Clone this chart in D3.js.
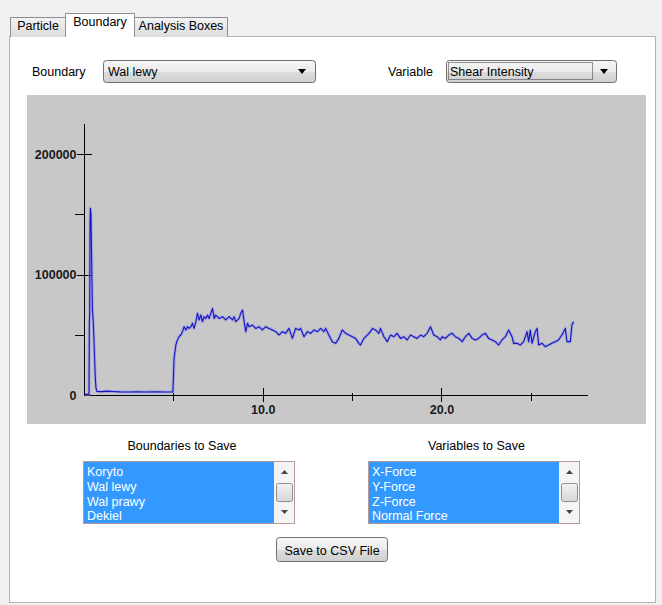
<!DOCTYPE html>
<html>
<head>
<meta charset="utf-8">
<script src="https://cdn.jsdelivr.net/npm/d3@7"></script>
<style>
  html, body { margin: 0; padding: 0; background: #f0f0f0; }
  svg { display: block; font-family: "Liberation Sans", Arial, sans-serif; }
</style>
</head>
<body>
<div id="chart"></div>
<script>
// ---------------- data ----------------
const tabLabels = ["Particle", "Boundary", "Analysis Boxes"];
const boundaryChoice = "Wal lewy";
const variableChoice = "Shear Intensity";
const boundaryItems = ["Koryto", "Wal lewy", "Wal prawy", "Dekiel"];
const variableItems = ["X-Force", "Y-Force", "Z-Force", "Normal Force"];
const yMajorTicks = [0, 100000, 200000];
const yMinorTicks = [50000, 150000];
const xMajorTicks = [10, 20];
const xMinorTicks = [5, 15, 25];
const times = [
  0.05, 0.28, 0.30, 0.32, 0.34, 0.36, 0.39, 0.42, 0.47, 0.52, 0.57, 0.63, 0.67, 0.72,
  1.0, 1.3, 1.6, 2.0, 2.5, 3.0, 3.5, 4.0, 4.5, 4.97,
  5.00, 5.02, 5.04, 5.14, 5.23, 5.32, 5.42, 5.51, 5.60, 5.70, 5.79, 5.88, 5.98,
  6.07, 6.16, 6.26, 6.35, 6.44, 6.54, 6.63, 6.72, 6.82, 6.91, 7.00, 7.19, 7.28, 7.37,
  7.56, 7.75, 7.93, 8.12, 8.31, 8.40, 8.49, 8.68, 8.77, 8.87, 8.96, 9.05, 9.15, 9.24,
  9.42, 9.61, 9.79, 9.98, 10.17, 10.35, 10.54, 10.73, 10.91, 11.10, 11.28, 11.47, 11.66,
  11.84, 12.03, 12.12, 12.31, 12.50, 12.68, 12.87, 13.06, 13.24, 13.42, 13.52, 13.70,
  13.89, 14.08, 14.26, 14.45, 14.64, 14.82, 15.01, 15.20, 15.38, 15.47, 15.66, 15.85,
  16.03, 16.13, 16.31, 16.50, 16.59, 16.78, 16.97, 17.15, 17.34, 17.52, 17.71, 17.89,
  18.08, 18.27, 18.45, 18.64, 18.83, 19.01, 19.20, 19.39, 19.57, 19.76, 19.94,
  20.04, 20.22, 20.41, 20.60, 20.78, 20.97, 21.16, 21.34, 21.53, 21.72, 21.90, 22.08,
  22.27, 22.46, 22.64, 22.83, 23.02, 23.20, 23.39, 23.58, 23.76, 23.95, 24.04, 24.23,
  24.41, 24.60, 24.79, 24.88, 24.97, 25.07, 25.25, 25.35, 25.44, 25.63, 25.81, 26.00,
  26.18, 26.37, 26.55, 26.74, 26.93, 27.02, 27.21, 27.30, 27.39
];
const shearIntensity = [
  500, 500, 60000, 68000, 145000, 155000, 150000, 120000, 72000, 60000, 40000, 15000, 6000, 3000,
  2800, 3200, 2900, 2600, 2500, 2700, 2500, 2600, 2500, 2600,
  12000, 22000, 30400, 41500, 45700, 48400, 49800, 52600, 56700, 54000, 56700, 55300, 56700,
  59500, 55300, 60900, 67800, 62300, 66400, 60900, 65000, 63600, 66400, 63600, 71900, 63600, 66400,
  63600, 65000, 62300, 65000, 62300, 65000, 60900, 63600, 67800, 70600, 60900, 52600, 59500, 56700,
  58100, 55300, 56700, 54000, 56700, 55300, 54000, 52600, 49800, 52600, 51200, 55300, 47000,
  55300, 54000, 55300, 48400, 52600, 51200, 54000, 52600, 55300, 52600, 55300, 49800,
  44300, 42900, 47000, 54000, 51200, 49800, 48400, 47000, 42900, 41500, 47000, 49800,
  52600, 55300, 54000, 51200, 55300, 48400, 44300, 49800, 48400, 51200, 47000, 48400,
  45700, 49800, 48400, 47000, 49800, 48400, 51200, 56700, 49800, 48400, 45700,
  48400, 47000, 49800, 51200, 48400, 47000, 44300, 48400, 51200, 47000, 45700, 47000,
  49800, 51200, 47000, 45700, 44300, 41500, 45700, 48400, 54000, 48400, 42900, 42900,
  41500, 44300, 52600, 44300, 54000, 42900, 52600, 55300, 41500, 42900, 40100, 41500,
  42900, 44300, 45700, 49800, 55300, 44300, 44300, 58100, 60900
];

// ---------------- layout ----------------
const W = 662, H = 605;
const svg = d3.select("#chart").append("svg").attr("width", W).attr("height", H);
const defs = svg.append("defs");
function grad(id, stops) {
  const g = defs.append("linearGradient").attr("id", id).attr("x1", 0).attr("y1", 0).attr("x2", 0).attr("y2", 1);
  stops.forEach(s => g.append("stop").attr("offset", s[0]).attr("stop-color", s[1]));
}
grad("gBtn", [[0, "#f6f6f6"], [0.5, "#ebebeb"], [0.51, "#dddddd"], [1, "#cfcfcf"]]);
grad("gTab", [[0, "#f3f3f3"], [1, "#dcdcdc"]]);
grad("gThumb", [[0, "#f3f3f3"], [1, "#d5d5d5"]]);

svg.append("rect").attr("width", W).attr("height", H).attr("fill", "#f0f0f0");

// panel
svg.append("rect").attr("x", 9.5).attr("y", 36.5).attr("width", 646).attr("height", 566)
  .attr("fill", "#ffffff").attr("stroke", "#b4b4b4");

// tabs
const tabs = [
  { x: 10.5, w: 55, y: 17.5, sel: false, tx: 38, ty: 30 },
  { x: 65.5, w: 69, y: 13.5, sel: true, tx: 100, ty: 26 },
  { x: 134.5, w: 93, y: 17.5, sel: false, tx: 181, ty: 30 }
];
tabs.forEach((t, i) => {
  svg.append("path")
    .attr("d", `M${t.x},37 L${t.x},${t.y} L${t.x + t.w},${t.y} L${t.x + t.w},37`)
    .attr("fill", t.sel ? "#ffffff" : "url(#gTab)").attr("stroke", "#8c8e94");
  if (t.sel) svg.append("rect").attr("x", t.x + 0.5).attr("y", 35).attr("width", t.w - 1).attr("height", 3).attr("fill", "#fff");
  svg.append("text").attr("x", t.tx).attr("y", t.ty).attr("text-anchor", "middle")
    .attr("font-size", "12.5px").attr("fill", "#000").text(tabLabels[i]);
});

// helpers
function downArrow(cx, cy, w, h, col) {
  return svg.append("path").attr("d", `M${cx - w / 2},${cy - h / 2} L${cx + w / 2},${cy - h / 2} L${cx},${cy + h / 2} Z`).attr("fill", col);
}
function upArrow(cx, cy, w, h, col) {
  return svg.append("path").attr("d", `M${cx - w / 2},${cy + h / 2} L${cx + w / 2},${cy + h / 2} L${cx},${cy - h / 2} Z`).attr("fill", col);
}

// combos
svg.append("text").attr("x", 32).attr("y", 75.5).attr("font-size", "12.5px").text("Boundary");
svg.append("rect").attr("x", 103.5).attr("y", 60.5).attr("width", 212).attr("height", 22).attr("rx", 3)
  .attr("fill", "url(#gBtn)").attr("stroke", "#707070");
svg.append("text").attr("x", 108).attr("y", 75.5).attr("font-size", "12.5px").text(boundaryChoice);
downArrow(302, 71.5, 8, 5, "#000");

svg.append("text").attr("x", 388).attr("y", 75.5).attr("font-size", "12.5px").text("Variable");
svg.append("rect").attr("x", 446.5).attr("y", 60.5).attr("width", 170).attr("height", 22).attr("rx", 3)
  .attr("fill", "url(#gBtn)").attr("stroke", "#707070");
svg.append("rect").attr("x", 448.5).attr("y", 62.5).attr("width", 144).attr("height", 17)
  .attr("fill", "none").attr("stroke", "#333").attr("stroke-dasharray", "1,1");
svg.append("text").attr("x", 450).attr("y", 75.5).attr("font-size", "12.5px").text(variableChoice);
downArrow(604, 71.5, 8, 5, "#000");

// plot background
svg.append("rect").attr("x", 27).attr("y", 95).attr("width", 619).attr("height", 329).attr("fill", "#c8c8c8");

// scales
const x = d3.scaleLinear().domain([0, 28.2]).range([84, 588]);
const y = d3.scaleLinear().domain([0, 225000]).range([395, 124]);

const plot = svg.append("g");
plot.append("line").attr("x1", 84.5).attr("x2", 84.5).attr("y1", y(225000)).attr("y2", 396).attr("stroke", "#000");
plot.append("line").attr("x1", 84).attr("x2", x(28.2)).attr("y1", 395.5).attr("y2", 395.5).attr("stroke", "#000");

// y ticks
const yAxisMajor = d3.axisLeft(y).tickValues(yMajorTicks).tickSize(0).tickPadding(8)
  .tickFormat(d3.format("d"));
const gy = plot.append("g").attr("transform", "translate(84.5,0)").call(yAxisMajor);
gy.select(".domain").remove();
gy.selectAll("text").attr("font-size", "12.5px").attr("font-weight", "bold").attr("fill", "#1a1a1a")
  .attr("font-family", "Liberation Sans, Arial, sans-serif");
yMajorTicks.filter(d => d > 0).forEach(d => {
  plot.append("line").attr("x1", 77).attr("x2", 92).attr("y1", Math.round(y(d)) + 0.5).attr("y2", Math.round(y(d)) + 0.5).attr("stroke", "#000");
});
yMinorTicks.forEach(d => {
  plot.append("line").attr("x1", 75).attr("x2", 84).attr("y1", Math.round(y(d)) + 0.5).attr("y2", Math.round(y(d)) + 0.5).attr("stroke", "#000");
});

// x ticks
const xAxisMajor = d3.axisBottom(x).tickValues(xMajorTicks).tickSize(0).tickPadding(10)
  .tickFormat(d3.format(".1f"));
const gx = plot.append("g").attr("transform", "translate(0,395.5)").call(xAxisMajor);
gx.select(".domain").remove();
gx.selectAll("text").attr("font-size", "12.5px").attr("font-weight", "bold").attr("fill", "#1a1a1a")
  .attr("font-family", "Liberation Sans, Arial, sans-serif");
xMajorTicks.forEach(d => {
  plot.append("line").attr("x1", Math.round(x(d)) + 0.5).attr("x2", Math.round(x(d)) + 0.5).attr("y1", 388).attr("y2", 402).attr("stroke", "#000");
});
xMinorTicks.forEach(d => {
  plot.append("line").attr("x1", Math.round(x(d)) + 0.5).attr("x2", Math.round(x(d)) + 0.5).attr("y1", 393).attr("y2", 401).attr("stroke", "#000");
});

// line
const pts = times.map((t, i) => [t, shearIntensity[i]]);
const lineGen = d3.line().x(d => x(d[0])).y(d => y(d[1]));
plot.append("path").attr("d", lineGen(pts)).attr("fill", "none").attr("stroke", "#8c8ce6")
  .attr("stroke-width", 3).attr("stroke-opacity", 0.55).attr("stroke-linejoin", "round");
plot.append("path").attr("d", lineGen(pts)).attr("fill", "none").attr("stroke", "#1414c4")
  .attr("stroke-width", 1.1).attr("stroke-linejoin", "round");

// list boxes
function listBox(title, cx, x0, w, items) {
  svg.append("text").attr("x", cx).attr("y", 449.5).attr("text-anchor", "middle").attr("font-size", "12.5px").text(title);
  svg.append("rect").attr("x", x0 + 0.5).attr("y", 461.5).attr("width", w).attr("height", 62)
    .attr("fill", "#ffffff").attr("stroke", "#b49a9a");
  const sbW = 20;
  svg.append("rect").attr("x", x0 + 1).attr("y", 462).attr("width", w - sbW - 1).attr("height", 61).attr("fill", "#3399ff");
  svg.append("rect").attr("x", x0 + w - sbW).attr("y", 462).attr("width", sbW).attr("height", 61).attr("fill", "#f4f4f4");
  const sx = x0 + w - sbW / 2 + 0.5;
  upArrow(sx, 472, 7, 4, "#444");
  downArrow(sx, 512, 7, 4, "#444");
  svg.append("rect").attr("x", x0 + w - sbW + 2.5).attr("y", 483.5).attr("width", sbW - 4).attr("height", 18).attr("rx", 2)
    .attr("fill", "url(#gThumb)").attr("stroke", "#8f8f8f");
  items.forEach((it, i) => {
    svg.append("text").attr("x", x0 + 4).attr("y", 476 + i * 14.8).attr("font-size", "12.5px").attr("fill", "#ffffff").text(it);
  });
}
listBox("Boundaries to Save", 182, 83, 211, boundaryItems);
listBox("Variables to Save", 476.5, 368, 211, variableItems);

// button
svg.append("rect").attr("x", 276.5).attr("y", 537.5).attr("width", 111).attr("height", 24).attr("rx", 3)
  .attr("fill", "url(#gBtn)").attr("stroke", "#707070");
svg.append("text").attr("x", 332).attr("y", 554.5).attr("text-anchor", "middle").attr("font-size", "12.5px").text("Save to CSV File");
</script>
</body>
</html>
